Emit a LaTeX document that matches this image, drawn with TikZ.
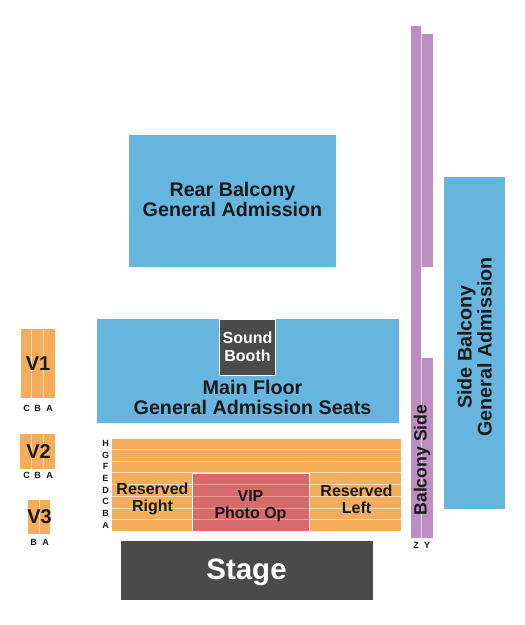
\documentclass[tikz,border=0pt]{standalone}
\usepackage{fontspec}
\setmainfont{Liberation Sans}
\definecolor{gablue}{HTML}{66B5DE}
\definecolor{seatorange}{HTML}{F4AE5B}
\definecolor{vipred}{HTML}{D66B6B}
\definecolor{balpurple}{HTML}{BC8EC2}
\definecolor{darkgrey}{HTML}{4A4A4A}
\definecolor{seatline}{HTML}{FBDDB5}
\definecolor{purpline}{HTML}{E6D2E8}
\tikzset{
  x=1pt,y=-1pt,
  seatrow/.style={draw=seatline,line width=0.9pt},
  viprow/.style={draw=seatline!45!vipred,line width=0.9pt},
  lab/.style={font=\bfseries\fontsize{19.7}{20}\selectfont,align=center,text=black!90,inner sep=0pt},
  mid/.style={font=\bfseries\fontsize{16}{17}\selectfont,align=center,text=black!90,inner sep=0pt},
  vlab/.style={font=\bfseries\fontsize{20}{22}\selectfont,text=black!90,inner sep=0pt},
  tiny/.style={font=\bfseries\fontsize{9}{9}\selectfont,text=black!90,inner sep=0pt},
}
\begin{document}
\begin{tikzpicture}
\useasboundingbox (0,0) rectangle (525,625);
% General admission
\fill[gablue] (129,135) rectangle (336,267);
\fill[gablue] (97,319) rectangle (399,423);
\fill[gablue] (444,177) rectangle (505,509);
% Sound booth
\fill[darkgrey,draw=white,line width=1pt] (219,319) rectangle (275.5,375.5);
% Stage
\fill[darkgrey] (121,541) rectangle (373,600);
% Reserved rows
\fill[seatorange] (112,439) rectangle (401,531);
\foreach \ry in {449.5,461.5,472.5,484.5,496.5,508.5,519.5}
  \draw[seatrow] (112,\ry) -- (401,\ry);
% VIP
\fill[vipred] (192.5,473) rectangle (309.5,531);
\foreach \ry in {484.5,496.5,508.5,519.5}
  \draw[viprow] (192.5,\ry) -- (309.5,\ry);
\draw[white,line width=1pt] (192.5,531) -- (192.5,473) -- (309.5,473) -- (309.5,531);
% Balcony side
\fill[balpurple] (411,26) rectangle (421,538);
\fill[balpurple] (422,34) rectangle (433,267);
\fill[balpurple] (422,358) rectangle (433,538);
\draw[purpline,line width=1pt] (421.5,34) -- (421.5,267);
\draw[purpline,line width=1pt] (421.5,358) -- (421.5,538);
% V blocks
\fill[seatorange] (21,329) rectangle (55,398);
\foreach \vx in {31.5,43.5} \draw[seatrow] (\vx,329) -- (\vx,398);
\fill[seatorange] (20,434) rectangle (55,469);
\foreach \vx in {31.5,43.5} \draw[seatrow] (\vx,434) -- (\vx,469);
\fill[seatorange] (28,500) rectangle (50,534);
\draw[seatrow] (39.5,500) -- (39.5,534);
% Main labels
\node[lab] (rear) at (232.5,199) {Rear Balcony\\General Admission};
\node[lab] (main) at (252.5,397) {Main Floor\\General Admission Seats};
\node[lab,rotate=90] (side) at (474.5,347) {Side Balcony\\General Admission};
\node[mid,text=white,font=\bfseries\fontsize{16}{18}\selectfont] (booth) at (247.5,347) {Sound\\Booth};
\node[font=\bfseries\fontsize{29.5}{30}\selectfont,text=white,inner sep=0pt] (stage) at (246.5,572.5) {Stage};
\node[mid] (rright) at (152.5,499) {Reserved\\Right};
\node[mid] (rleft) at (356.5,499) {Reserved\\Left};
\node[mid] (vip) at (250.5,506) {VIP\\Photo Op};
\node[mid,rotate=90,font=\bfseries\fontsize{17.7}{19}\selectfont] (bside) at (422,460) {Balcony Side};
\node[vlab] (v1) at (38,364) {V1};
\node[vlab] (v2) at (38.5,451.5) {V2};
\node[vlab] (v3) at (39.5,517) {V3};
% Row letters
\node[tiny] (r1c) at (26.5,408) {C};
\node[tiny] (r1b) at (37.5,408) {B};
\node[tiny] (r1a) at (49.5,408) {A};
\node[tiny] (r2c) at (26.5,475.5) {C};
\node[tiny] (r2b) at (37.5,475.5) {B};
\node[tiny] (r2a) at (49.5,475.5) {A};
\node[tiny] (r3b) at (33.5,542) {B};
\node[tiny] (r3a) at (45.5,542) {A};
\node[tiny] (rh) at (105.5,443.5) {H};
\node[tiny] (rg) at (105.5,455.5) {G};
\node[tiny] (rf) at (105.5,466.5) {F};
\node[tiny] (re) at (105.5,478.5) {E};
\node[tiny] (rd) at (105.5,490.5) {D};
\node[tiny] (rc) at (105.5,501.5) {C};
\node[tiny] (rb) at (105.5,513.5) {B};
\node[tiny] (ra) at (105.5,525.5) {A};
\node[tiny] (rz) at (416,545) {Z};
\node[tiny] (ry) at (427,545) {Y};
\end{tikzpicture}
\end{document}
